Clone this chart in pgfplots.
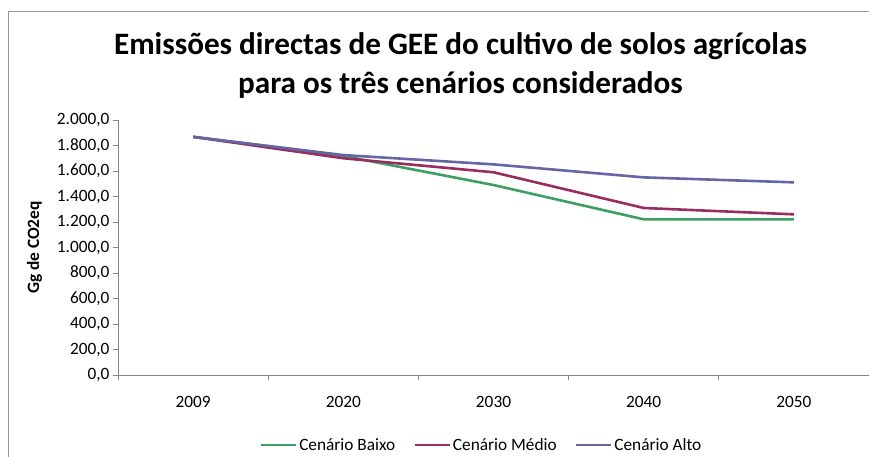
\documentclass[border=0pt]{standalone}
\usepackage{pgfplots}
\pgfplotsset{compat=1.18}
\usepackage{fontspec}
\setmainfont{Carlito}
\definecolor{cbaixo}{RGB}{60,160,100}
\definecolor{cmedio}{RGB}{152,45,95}
\definecolor{calto}{RGB}{100,102,165}
\definecolor{axgray}{RGB}{134,134,134}
\begin{document}
\begin{tikzpicture}[x=1pt,y=1pt]
\useasboundingbox (0,0) rectangle (869,456);
\draw[color={rgb,255:red,150;green,150;blue,150}, line width=1pt] (8,-10) -- (8,444) -- (890,444);
\begin{axis}[
  at={(118pt,81pt)}, anchor=south west,
  width=751pt, height=255pt, scale only axis,
  xmin=-0.5, xmax=4.5, ymin=0, ymax=2000,
  axis lines*=left,
  axis line style={axgray, line width=0.8pt},
  xtick={0,1,2,3,4},
  xticklabels={2009,2020,2030,2040,2050},
  major x tick style={draw=none},
  extra x ticks={-0.5,0.5,1.5,2.5,3.5},
  extra x tick labels={},
  extra x tick style={tick align=outside, major tick length=5pt, major x tick style={draw=axgray, line width=0.8pt}},
  ytick={0,200,...,2000},
  ytick align=outside, major tick length=5pt,
  ytick style={axgray, line width=0.8pt},
  tick label style={font=\fontsize{17.3}{20}\selectfont},
  xticklabel style={yshift=-18pt},
  /pgf/number format/.cd, fixed, fixed zerofill, precision=1, use comma, 1000 sep={.}, assume math mode=true,
  /pgfplots/.cd,
  ylabel={Gg de CO2eq},
  every axis y label/.style={at={(axis description cs:-0.111,0.5)}, rotate=90, anchor=center, font=\bfseries\fontsize{17.3}{20}\selectfont},
  title={Emissões directas de GEE do cultivo de solos agrícolas\\para os três cenários considerados},
  title style={at={(axis description cs:0.456,1.19)}, anchor=center, align=center, font=\bfseries\fontsize{31.2}{39}\selectfont},
  legend columns=3,
  legend style={at={(axis description cs:0.484,-0.2745)}, anchor=center, draw=none, fill=none,
    font=\fontsize{17.3}{20}\selectfont, /tikz/every even column/.append style={column sep=16pt}},
  legend image code/.code={\draw[#1] (0pt,0pt) -- (35pt,0pt);},
  clip=false,
]
\addplot[cbaixo, line width=2.6pt] coordinates {(0,1868) (1,1718) (2,1490) (3,1221) (4,1221)};
\addlegendentry{Cenário Baixo}
\addplot[cmedio, line width=2.6pt] coordinates {(0,1868) (1,1700) (2,1590) (3,1310) (4,1260)};
\addlegendentry{Cenário Médio}
\addplot[calto, line width=2.6pt] coordinates {(0,1868) (1,1725) (2,1652) (3,1550) (4,1511)};
\addlegendentry{Cenário Alto}
\end{axis}
\end{tikzpicture}
\end{document}
